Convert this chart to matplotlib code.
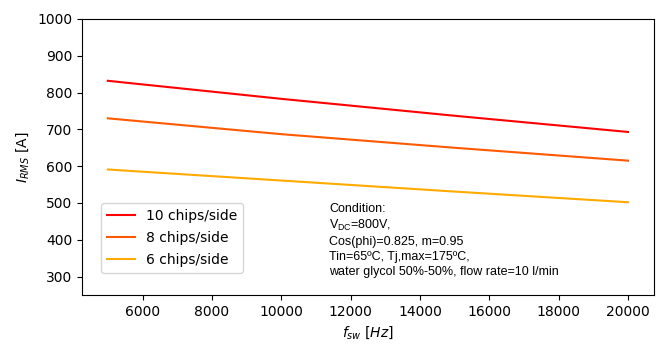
import matplotlib
matplotlib.use("Agg")
import matplotlib.pyplot as plt

fsw = [5000, 10000, 15000, 20000]
i_10 = [832, 783, 737, 693]
i_8 = [730, 687, 650, 615]
i_6 = [591, 561, 531, 502]
labels = ["10 chips/side", "8 chips/side", "6 chips/side"]
colors = ["#ff0000", "#ff5a00", "#ffaa00"]

fig = plt.figure(figsize=(6.6, 3.45), dpi=100)
ax = fig.add_axes([0.124, 0.145, 0.867, 0.8])
for y, lab, c in zip([i_10, i_8, i_6], labels, colors):
    ax.plot(fsw, y, color=c, label=lab, lw=1.5)
ax.set_ylim(250, 1000)
ax.set_yticks([300, 400, 500, 600, 700, 800, 900, 1000])
ax.set_xticks([6000, 8000, 10000, 12000, 14000, 16000, 18000, 20000])
ax.set_xlabel(r"$f_{sw}\ [Hz]$")
ax.set_ylabel(r"$I_{RMS}$ [A]")
ax.legend(loc="lower left", bbox_to_anchor=(0.022, 0.055), labelspacing=0.6)

txt = ("Condition:\n"
       "V$_{\\mathregular{DC}}$=800V,\n"
       "Cos(phi)=0.825, m=0.95\n"
       "Tin=65ºC, Tj,max=175ºC,\n"
       "water glycol 50%-50%, flow rate=10 l/min")
ax.text(0.432, 0.335, txt, transform=ax.transAxes, fontsize=9,
        family="Liberation Sans", va="top", ha="left", linespacing=1.32)

fig.savefig("out.png", dpi=100)
